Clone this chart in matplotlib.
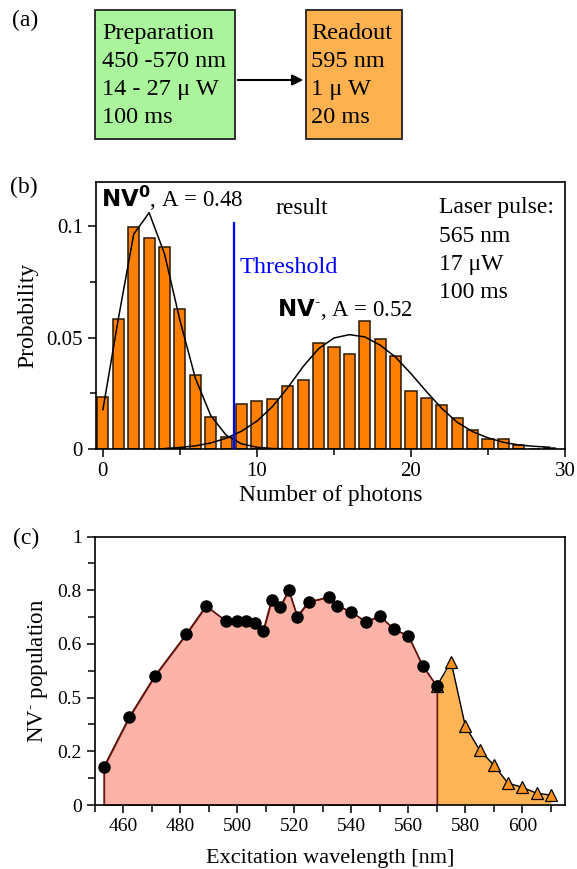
import matplotlib
matplotlib.use('Agg')
from matplotlib import pyplot as plt
from matplotlib.patches import Rectangle
from matplotlib.ticker import MultipleLocator, FixedLocator, FixedFormatter

# # Data

# (b) photon-count histogram
photons = list(range(30))
probability = [0.0233, 0.0585, 0.0996, 0.0945, 0.0907, 0.0626, 0.0332, 0.0143, 0.0056,
               0.0203, 0.0214, 0.0224, 0.0282, 0.0310, 0.0474, 0.0456, 0.0426, 0.0573,
               0.0494, 0.0417, 0.0258, 0.0231, 0.0198, 0.0141, 0.0084, 0.0044, 0.0044,
               0.0017, 0.0, 0.0006]

# fitted curves
nv0_x = list(range(13))
nv0_fit = [0.0177, 0.0584, 0.0964, 0.1060, 0.0875, 0.0577, 0.0318, 0.0150, 0.0062,
           0.0023, 0.0008, 0.0002, 0.0001]
nvm_x = list(range(4, 30))
nvm_fit = [0.0002, 0.0007, 0.0014, 0.0027, 0.0048, 0.0080, 0.0125, 0.0190, 0.0275,
           0.0370, 0.0450, 0.0498, 0.0513, 0.0503, 0.0466, 0.0412, 0.0338, 0.0258,
           0.0182, 0.0120, 0.0078, 0.0050, 0.0030, 0.0018, 0.0012, 0.0008]
threshold = 8.5
threshold_top = 0.102

# (c) NV- population vs excitation wavelength
wl_circ = [453, 462, 471, 482, 489, 496, 500, 503, 506, 509, 512, 515, 518, 521, 525,
           532, 535, 540, 545, 550, 555, 560, 565, 570]
pop_circ = [0.140, 0.327, 0.481, 0.636, 0.742, 0.685, 0.685, 0.687, 0.677, 0.647, 0.764,
            0.737, 0.801, 0.702, 0.757, 0.774, 0.742, 0.720, 0.682, 0.704, 0.655, 0.630,
            0.519, 0.443]
wl_tri = [570, 575, 580, 585, 590, 595, 600, 605, 610]
pop_tri = [0.443, 0.534, 0.294, 0.205, 0.149, 0.081, 0.066, 0.044, 0.037]

c_yticks = [0, 0.2, 0.4, 0.6, 0.8, 1.0]
c_yticklabels = ['0', '0.2', '0.5', '0.6', '0.8', '1']

# # Fonts
plt.rcParams['font.family'] = ['Liberation Serif', 'DejaVu Serif']
plt.rcParams['mathtext.fontset'] = 'custom'
plt.rcParams['mathtext.rm'] = 'Liberation Serif'
plt.rcParams['mathtext.it'] = 'Liberation Serif:italic'
plt.rcParams['mathtext.bf'] = 'DejaVu Sans:bold'

W, H = 577, 869
fig = plt.figure(figsize=(W / 100, H / 100), dpi=100)


def px_axes(left, top, right, bottom):
    # axes from pixel box
    return fig.add_axes([left / W, 1 - bottom / H, (right - left) / W, (bottom - top) / H])


# # (a) scheme
ax_a = fig.add_axes([0, 1 - 150 / H, 1, 150 / H])
ax_a.set_xlim(0, W)
ax_a.set_ylim(150, 0)
ax_a.axis('off')
ax_a.add_patch(Rectangle((95, 10), 140, 129, facecolor='#aaf59c', edgecolor='#222222', lw=1.3))
ax_a.add_patch(Rectangle((306, 10), 96, 129, facecolor='#fdb24f', edgecolor='#222222', lw=1.3))
for i, s in enumerate(['Preparation', '450 -570 nm', '14 - 27 μ W', '100 ms']):
    ax_a.text(102, 39 + 28 * i, s, fontsize=17.5, va='baseline')
for i, s in enumerate(['Readout', '595 nm', '1 μ W', '20 ms']):
    ax_a.text(311, 39 + 28 * i, s, fontsize=17.5, va='baseline')
ax_a.annotate('', xy=(306, 80), xytext=(235, 80),
              arrowprops=dict(arrowstyle='-|>', color='black', lw=1.5, mutation_scale=16))

# # (b) histogram
ax_b = px_axes(96, 181.5, 565, 449)
ax_b.bar(photons, probability, width=0.72, color='#ff8000', edgecolor='#2a1800', lw=1.1, zorder=2)
ax_b.plot(nv0_x, nv0_fit, color='black', lw=1.1, zorder=3)
ax_b.plot(nvm_x, nvm_fit, color='black', lw=1.1, zorder=3)
ax_b.vlines(threshold, 0, threshold_top, color='#0000ff', lw=1.6, zorder=4)
ax_b.set_xlim(-0.45, 30)
ax_b.set_ylim(0, 0.12)
ax_b.xaxis.set_major_locator(MultipleLocator(10))
ax_b.xaxis.set_minor_locator(MultipleLocator(5))
ax_b.yaxis.set_major_locator(FixedLocator([0, 0.05, 0.1]))
ax_b.yaxis.set_major_formatter(FixedFormatter(['0', '0.05', '0.1']))
ax_b.yaxis.set_minor_locator(MultipleLocator(0.025))
ax_b.tick_params(which='both', direction='out', labelsize=15, width=1.1)
ax_b.tick_params(which='major', length=6)
ax_b.tick_params(which='minor', length=4)
ax_b.set_xlabel('Number of photons', fontsize=17, labelpad=3)
ax_b.set_ylabel('Probability', fontsize=17, labelpad=6)
ax_b.text(-0.1, 0.1087, r'$\mathbf{NV^0}$, A = 0.48', fontsize=16.5, va='baseline')
ax_b.text(11.2, 0.1054, 'result', fontsize=17, va='baseline')
ax_b.text(8.85, 0.0788, 'Threshold', fontsize=17.5, color='#0000ff', va='baseline')
ax_b.text(11.3, 0.0596, r'$\mathbf{NV^{\text{-}}}$, A = 0.52', fontsize=16.5, va='baseline')
for i, s in enumerate(['Laser pulse:', '565 nm', '17 μW', '100 ms']):
    ax_b.text(21.85, 0.1057 - 0.0127 * i, s, fontsize=17, va='baseline')

# # (c) NV- population
ax_c = px_axes(95, 536.5, 565, 805)
ax_c.fill_between(wl_circ, pop_circ, color='#fdb3a8', edgecolor='#6e1a10', lw=1.0, zorder=1)
ax_c.fill_between(wl_tri, pop_tri, color='#fdb455', lw=0, zorder=1)
ax_c.vlines([wl_circ[0], wl_circ[-1]], 0, [pop_circ[0], pop_circ[-1]], color='#6e1a10', lw=1.0, zorder=2)
ax_c.plot(wl_tri, pop_tri, color='black', lw=1.0, marker='^', ms=9,
          mfc='#f7921e', mec='black', mew=0.9, zorder=3)
ax_c.plot(wl_circ, pop_circ, color='#5a1008', lw=1.0, marker='o', ms=8,
          mfc='black', mec='black', zorder=4)
ax_c.set_xlim(450, 615)
ax_c.set_ylim(0, 1)
ax_c.xaxis.set_major_locator(MultipleLocator(20))
ax_c.xaxis.set_minor_locator(MultipleLocator(10))
ax_c.yaxis.set_major_locator(FixedLocator(c_yticks))
ax_c.yaxis.set_major_formatter(FixedFormatter(c_yticklabels))
ax_c.yaxis.set_minor_locator(MultipleLocator(0.1))
ax_c.tick_params(which='both', direction='out', labelsize=14, width=1.1)
ax_c.tick_params(which='major', length=6)
ax_c.tick_params(which='minor', length=5)
ax_c.set_xlabel('Excitation wavelength [nm]', fontsize=16, labelpad=10)
ax_c.set_ylabel(r'NV$^{\text{-}}$ population', fontsize=16.5, labelpad=5)

for ax in (ax_b, ax_c):
    for sp in ax.spines.values():
        sp.set_linewidth(1.2)

# # panel letters
fig.text(12 / W, 1 - 20 / H, '(a)', fontsize=17, va='center')
fig.text(10 / W, 1 - 187 / H, '(b)', fontsize=17, va='center')
fig.text(13 / W, 1 - 538 / H, '(c)', fontsize=17, va='center')

fig.savefig('out.png', dpi=100)
